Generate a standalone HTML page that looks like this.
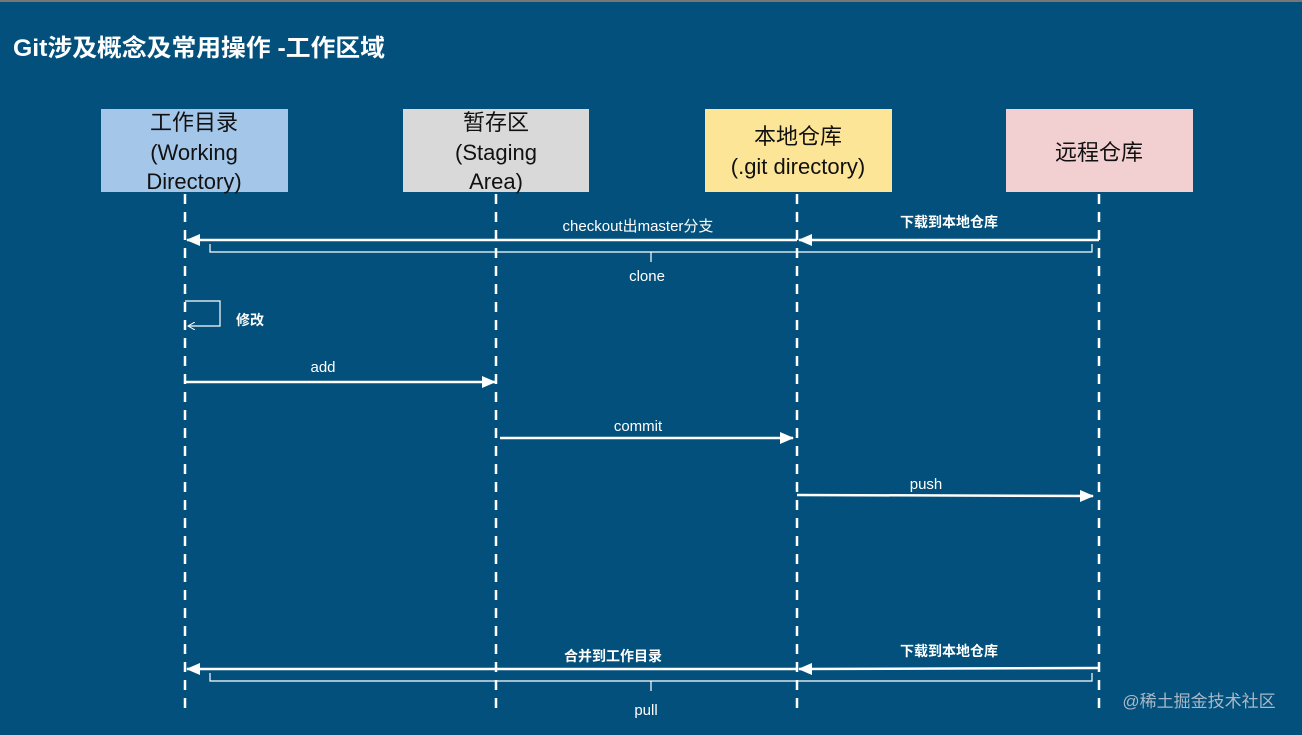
<!DOCTYPE html>
<html><head><meta charset="utf-8"><style>
html,body{margin:0;padding:0;width:1302px;height:735px;overflow:hidden;background:#02507b}
svg{display:block}
text{font-family:"Liberation Sans","Noto Sans CJK SC",sans-serif}
</style></head><body>
<svg width="1302" height="735" viewBox="0 0 1302 735">
<defs>
<marker id="a" markerWidth="14" markerHeight="12" refX="13" refY="6" orient="auto" markerUnits="userSpaceOnUse"><path d="M0,0 L14,6 L0,12 Z" fill="#fff"/></marker>
<marker id="s" markerWidth="8" markerHeight="8" refX="7" refY="4" orient="auto" markerUnits="userSpaceOnUse"><path d="M0,0 L7,4 L0,8" fill="none" stroke="#fff" stroke-width="1"/></marker>
</defs>
<rect x="0" y="0" width="1302" height="735" fill="#02507b"/>
<rect x="0" y="0" width="1302" height="2" fill="#777"/>
<text x="13" y="56" font-size="24" font-weight="bold" fill="#fff" textLength="372" lengthAdjust="spacingAndGlyphs">Git涉及概念及常用操作 -工作区域</text>
<rect x="101" y="109" width="187" height="83" fill="#a3c6e9"/>
<text text-anchor="middle" font-size="22" fill="#111"><tspan x="194" y="130">工作目录</tspan><tspan x="194" y="160">(Working</tspan><tspan x="194" y="189">Directory)</tspan></text>
<rect x="403" y="109" width="186" height="83" fill="#d9d9d9"/>
<text text-anchor="middle" font-size="22" fill="#111"><tspan x="496" y="130">暂存区</tspan><tspan x="496" y="160">(Staging</tspan><tspan x="496" y="189">Area)</tspan></text>
<rect x="705" y="109" width="187" height="83" fill="#fde598"/>
<text text-anchor="middle" font-size="22" fill="#111"><tspan x="798" y="144">本地仓库</tspan><tspan x="798" y="174">(.git directory)</tspan></text>
<rect x="1006" y="109" width="187" height="83" fill="#f2cfd0"/>
<text x="1099" y="160" text-anchor="middle" font-size="22" fill="#111">远程仓库</text>
<g stroke="#fff" stroke-width="2.5" stroke-dasharray="10,8">
<line x1="185" y1="194" x2="185" y2="715"/><line x1="496" y1="194" x2="496" y2="715"/>
<line x1="797" y1="194" x2="797" y2="715"/><line x1="1099" y1="194" x2="1099" y2="715"/>
</g>
<g stroke="#fff" fill="none">
<line x1="797" y1="240" x2="187" y2="240" stroke-width="2.5" marker-end="url(#a)"/>
<line x1="1099" y1="240" x2="799" y2="240" stroke-width="2.5" marker-end="url(#a)"/>
<path d="M210,244 V252 H1092 V244 M651,252 V262" stroke-width="1.2"/>
<path d="M185,301 H220 V326 H188" stroke-width="1.2" marker-end="url(#s)"/>
<line x1="185" y1="382" x2="495" y2="382" stroke-width="2.5" marker-end="url(#a)"/>
<line x1="500" y1="438" x2="793" y2="438" stroke-width="2.5" marker-end="url(#a)"/>
<line x1="797" y1="495" x2="1093" y2="496" stroke-width="2.5" marker-end="url(#a)"/>
<line x1="797" y1="669" x2="187" y2="669" stroke-width="2.5" marker-end="url(#a)"/>
<line x1="1099" y1="668" x2="799" y2="669" stroke-width="2.5" marker-end="url(#a)"/>
<path d="M210,673 V681 H1092 V673 M651,681 V691" stroke-width="1.2"/>
</g>
<g fill="#fff" font-size="15" text-anchor="middle">
<text x="638" y="231">checkout出master分支</text>
<text x="949" y="227" font-weight="bold" font-size="14">下载到本地仓库</text>
<text x="647" y="281">clone</text>
<text x="250" y="325" font-weight="bold" font-size="14">修改</text>
<text x="323" y="372">add</text>
<text x="638" y="431">commit</text>
<text x="926" y="489">push</text>
<text x="613" y="661" font-weight="bold" font-size="14">合并到工作目录</text>
<text x="949" y="656" font-weight="bold" font-size="14">下载到本地仓库</text>
<text x="646" y="715">pull</text>
</g>
<text x="1199" y="707" text-anchor="middle" font-size="17" fill="#a9b8c6">@稀土掘金技术社区</text>
</svg>
</body></html>
